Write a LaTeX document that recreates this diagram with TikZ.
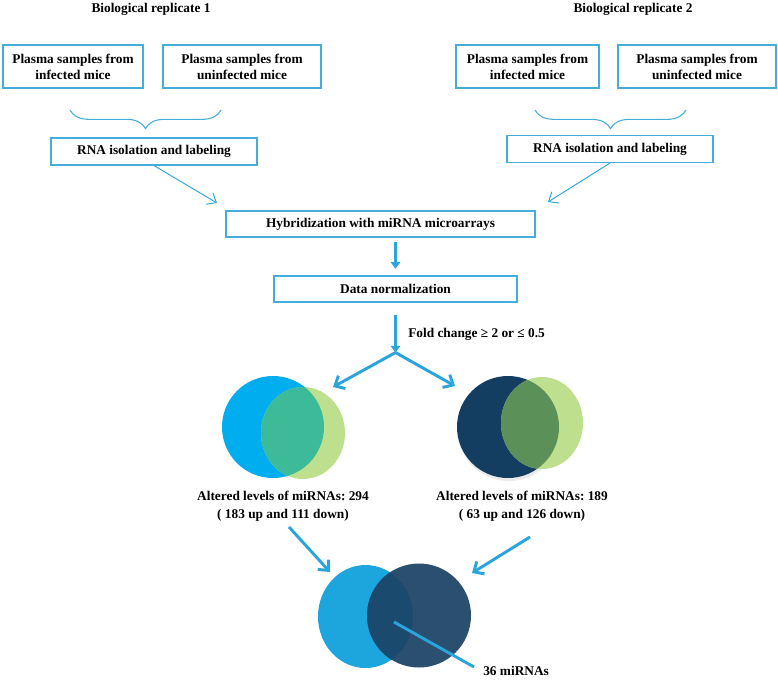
\documentclass[tikz,border=0pt]{standalone}
\usepackage{fontspec}
\setmainfont{Liberation Serif}
\usetikzlibrary{arrows.meta, decorations.pathreplacing}
\frenchspacing

\definecolor{boxblue}{HTML}{45ADDC}
\definecolor{arrowblue}{HTML}{2AA4DC}
\definecolor{skyblue}{HTML}{00ADEE}
\definecolor{lightgreen}{HTML}{BEE08E}
\definecolor{tealmix}{HTML}{3DBB98}
\definecolor{navy}{HTML}{133E62}
\definecolor{olivemix}{HTML}{5B9159}
\definecolor{cyanblue}{HTML}{1DA5DE}
\definecolor{slateblue}{HTML}{2B4F6F}
\definecolor{deepmix}{HTML}{1A4A6E}

\tikzset{
  box/.style={draw=boxblue, line width=0.8pt, align=center, inner sep=0pt,
              font=\fontsize{10}{12}\selectfont\bfseries},
  txt/.style={align=center, inner sep=0pt, font=\fontsize{10}{13.5}\selectfont\bfseries},
  thinarrow/.style={draw=arrowblue, line width=0.7pt, -{Straight Barb[length=6pt,width=10pt]}},
  thickarrow/.style={draw=arrowblue, line width=2.2pt, -{Triangle[length=5pt,width=7pt]}},
  barbarrow/.style={draw=arrowblue, line width=2.2pt, -{Straight Barb[length=6pt,width=11pt]}},
  curly/.style={draw=boxblue, line width=0.8pt, decorate,
                decoration={brace, amplitude=14pt, mirror}},
}

\begin{document}
\begin{tikzpicture}[x=0.75pt, y=-0.75pt]

    % Canvas (pixels of the reference)
    \useasboundingbox (0,0) rectangle (778,679);

    % Titles
    \node[txt] (title1) at (151,9) {Biological replicate 1};
    \node[txt] (title2) at (633,9) {Biological replicate 2};

    % Samples, replicate 1
    \node[box, minimum width=140*0.75pt, minimum height=43*0.75pt] (inf1)   at (73,66.5)  {Plasma samples from\\infected mice};
    \node[box, minimum width=158*0.75pt, minimum height=43*0.75pt] (uninf1) at (242,66.5) {Plasma samples from\\uninfected mice};
    % Samples, replicate 2
    \node[box, minimum width=143*0.75pt, minimum height=43*0.75pt] (inf2)   at (527.5,66.5) {Plasma samples from\\infected mice};
    \node[box, minimum width=158*0.75pt, minimum height=43*0.75pt] (uninf2) at (697,66.5)   {Plasma samples from\\uninfected mice};

    % Braces
    \coordinate (bl1) at (70,110);
    \coordinate (br1) at (221,110);
    \coordinate (bl2) at (535,110);
    \coordinate (br2) at (686,110);
    \draw[curly] (bl1) -- (br1);
    \draw[curly] (bl2) -- (br2);

    % RNA isolation
    \node[box, minimum width=206*0.75pt, minimum height=27*0.75pt] (rna1) at (154,151.5) {RNA isolation and labeling};
    \node[box, minimum width=206*0.75pt, minimum height=27*0.75pt] (rna2) at (610,149)   {RNA isolation and labeling};

    % Hybridization and normalization
    \node[box, minimum width=309*0.75pt, minimum height=26*0.75pt] (hyb)  at (380.5,224) {Hybridization with miRNA microarrays};
    \node[box, minimum width=243*0.75pt, minimum height=26*0.75pt] (norm) at (395.5,289) {Data normalization};

    \coordinate (hybin1) at (217,203);
    \coordinate (hybin2) at (548,202);
    \draw[thinarrow] (rna1.south) -- (hybin1);
    \draw[thinarrow] (rna2.south) -- (hybin2);

    \coordinate (hybfoot) at (hyb.south -| norm.north);
    \draw[thickarrow] ([yshift=-3pt]hybfoot) -- ([yshift=5pt]norm.north);

    % Fold change split
    \coordinate (fork)  at ([yshift=-37.5pt]norm.south);
    \coordinate (venn1in) at (333,387);
    \coordinate (venn2in) at (455,386);
    \draw[thickarrow] ([yshift=-9pt]norm.south) -- (fork);
    \node[txt, anchor=west] (fold) at (408,334) {Fold change ≥ 2 or ≤ 0.5};
    \draw[barbarrow] (fork) -- (venn1in);
    \draw[barbarrow] (fork) -- (venn2in);

    % Venn, replicate 1
    \fill[skyblue] (273,427) circle[radius=51];
    \fill[lightgreen] (303,433) ellipse[x radius=42, y radius=46];
    \begin{scope}
      \clip (273,427) circle[radius=51];
      \fill[tealmix] (303,433) ellipse[x radius=42, y radius=46];
    \end{scope}

    % Venn, replicate 2
    \fill[black!8] (509,429) circle[radius=52];
    \fill[navy] (508,427) circle[radius=51];
    \fill[lightgreen] (542,423) ellipse[x radius=41, y radius=46];
    \begin{scope}
      \clip (508,427) circle[radius=51];
      \fill[olivemix] (542,423) ellipse[x radius=41, y radius=46];
    \end{scope}

    \node[txt] (alt1) at (283,506) {Altered levels of miRNAs: 294\\( 183 up and 111 down)};
    \node[txt] (alt2) at (522,506) {Altered levels of miRNAs: 189\\( 63 up and 126 down)};

    % Common miRNAs
    \coordinate (out1) at (289,527);
    \coordinate (out2) at (530,537);
    \coordinate (com1in) at (330,572);
    \coordinate (com2in) at (472,573);
    \draw[barbarrow] (out1) -- (com1in);
    \draw[barbarrow] (out2) -- (com2in);

    \fill[cyanblue] (365.5,616.5) ellipse[x radius=47.5, y radius=51.5];
    \fill[slateblue] (419,615.5) circle[radius=52];
    \begin{scope}
      \clip (365.5,616.5) ellipse[x radius=47.5, y radius=51.5];
      \fill[deepmix] (419,615.5) circle[radius=52];
    \end{scope}

    \coordinate (core) at (394,622);
    \coordinate (tail) at (474,667);
    \node[txt, anchor=west] (common) at (483,671) {36 miRNAs};
    \draw[draw=arrowblue, line width=2.2pt] (core) -- (tail);

\end{tikzpicture}
\end{document}
